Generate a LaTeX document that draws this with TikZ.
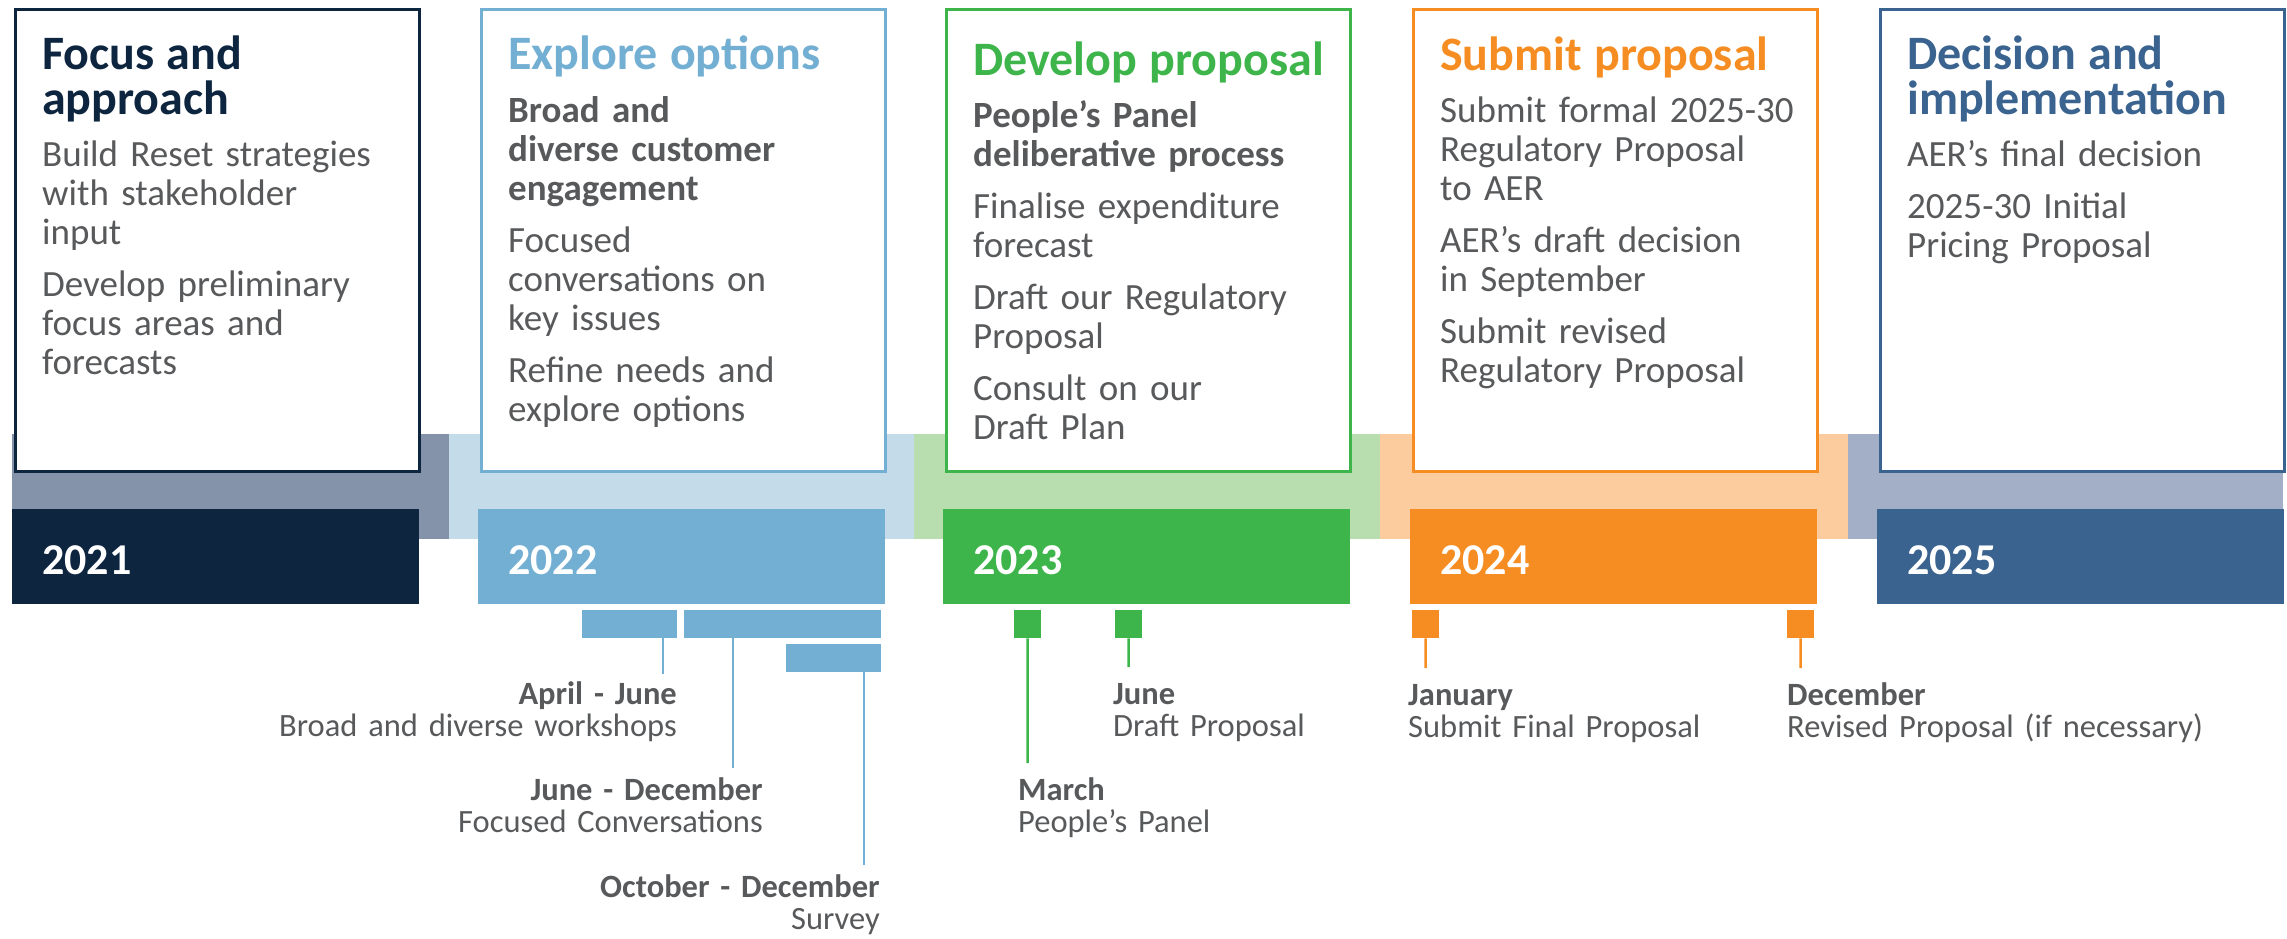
\documentclass[tikz,border=0pt]{standalone}
\usepackage{fontspec}
\setmainfont{Carlito}
\usepackage{xcolor}
\usetikzlibrary{positioning,calc}

% stage colours: strong, band
\definecolor{navy}{HTML}{0E2540}
\definecolor{navyband}{HTML}{8593AA}
\definecolor{sky}{HTML}{72AFD3}
\definecolor{skyband}{HTML}{C4DBE9}
\definecolor{leaf}{HTML}{3DB54A}
\definecolor{leafband}{HTML}{B8DEB0}
\definecolor{amber}{HTML}{F68D22}
\definecolor{amberband}{HTML}{FDCC9E}
\definecolor{steel}{HTML}{3A648F}
\definecolor{steelband}{HTML}{A3AEC7}
\definecolor{textgray}{HTML}{58595B}

\newcommand{\headfont}{\fontsize{48}{45}\selectfont\bfseries}
\newcommand{\gap}{\par\vspace{13pt}}

\begin{document}
\begin{tikzpicture}[x=1pt,y=-1pt]

	\tikzset{
	stage box/.style={draw, line width=3pt, fill=white, anchor=north west,
		minimum width=404pt, minimum height=461pt, inner sep=0pt},
	year bar/.style={anchor=north west, minimum width=407pt, minimum height=95pt, inner sep=0pt},
	year label/.style={anchor=base west, inner sep=0pt, text=white,
		font=\fontsize{44}{44}\selectfont\bfseries},
	stage text/.style={anchor=base west, inner sep=0pt, text width=390pt, align=left,
		text=textgray, font=\fontsize{37}{39}\selectfont},
	tick bar/.style={anchor=north west, inner sep=0pt, minimum height=28pt},
	tick line/.style={line width=2.5pt},
	date text/.style={inner sep=0pt, text width=460pt, text=textgray,
		font=\fontsize{32.5}{32}\selectfont}
}

\useasboundingbox (0,0) rectangle (2287,939);

% coloured band behind the years
\fill[navyband]  (12,434)    rectangle (448.5,539);
\fill[skyband]   (448.5,434) rectangle (913.5,539);
\fill[leafband]  (913.5,434) rectangle (1380,539);
\fill[amberband] (1380,434)  rectangle (1848,539);
\fill[steelband] (1848,434)  rectangle (2283,539);

% stage boxes
\node[stage box, draw=navy]  (box1) at (13.5,8.5) {};
\node[stage box, draw=sky]   (box2) at (479.5,8.5) {};
\node[stage box, draw=leaf]  (box3) at (944.5,8.5) {};
\node[stage box, draw=amber] (box4) at (1411.5,8.5) {};
\node[stage box, draw=steel] (box5) at (1878.5,8.5) {};

% year bars
\node[year bar, fill=navy]  (bar1) at (12,509) {};
\node[year bar, fill=sky]   (bar2) at (478,509) {};
\node[year bar, fill=leaf]  (bar3) at (943,509) {};
\node[year bar, fill=amber] (bar4) at (1410,509) {};
\node[year bar, fill=steel] (bar5) at (1877,509) {};

\node[year label] (y2021) at (42,574) {2021};
\node[year label] (y2022) at (508,574) {2022};
\node[year label] (y2023) at (973,574) {2023};
\node[year label] (y2024) at (1440,574) {2024};
\node[year label] (y2025) at (1907,574) {2025};

% box texts
\node[stage text] (txt1) at (42,70) {{\color{navy}\headfont Focus and\\approach\par}\vspace{13pt}
	Build Reset strategies\\with stakeholder\\input\gap
	Develop preliminary\\focus areas and\\forecasts};

\node[stage text] (txt2) at (508,70) {{\color{sky}\headfont Explore options\par}\vspace{14pt}
	\textbf{Broad and\\diverse customer\\engagement}\gap
	Focused\\conversations on\\key issues\gap
	Refine needs and\\explore options};

\node[stage text] (txt3) at (973,76) {{\color{leaf}\headfont Develop proposal\par}\vspace{13pt}
	\textbf{People’s Panel\\deliberative process}\gap
	Finalise expenditure\\forecast\gap
	Draft our Regulatory\\Proposal\gap
	Consult on our\\Draft Plan};

\node[stage text] (txt4) at (1440,71) {{\color{amber}\headfont Submit proposal\par}\vspace{13pt}
	Submit formal 2025-30\\Regulatory Proposal\\to AER\gap
	AER’s draft decision\\in September\gap
	Submit revised\\Regulatory Proposal};

\node[stage text] (txt5) at (1907,70) {{\color{steel}\headfont Decision and\\implementation\par}\vspace{13pt}
	AER’s final decision\gap
	2025-30 Initial\\Pricing Proposal};

% 2022 activities
\node[tick bar, fill=sky, minimum width=95pt]  (aprJun) at (582,610) {};
\node[tick bar, fill=sky, minimum width=197pt] (junDec) at (684,610) {};
\node[tick bar, fill=sky, minimum width=95pt]  (octDec) at (786,644) {};
\coordinate (aprJunEnd) at (663,674);
\coordinate (junDecEnd) at (733,768);
\coordinate (octDecEnd) at (864,865);
\draw[tick line, sky] (aprJun.south -| aprJunEnd) -- (aprJunEnd);
\draw[tick line, sky] (junDec.south -| junDecEnd) -- (junDecEnd);
\draw[tick line, sky] (octDec.south -| octDecEnd) -- (octDecEnd);
\node[date text, anchor=base east, align=right] (aprJunTxt) at (677,704) {\textbf{April - June}\\Broad and diverse workshops};
\node[date text, anchor=base east, align=right] (junDecTxt) at (763,800) {\textbf{June - December}\\Focused Conversations};
\node[date text, anchor=base east, align=right] (octDecTxt) at (880,897) {\textbf{October - December}\\Survey};

% 2023 milestones
\node[tick bar, fill=leaf, minimum width=27pt] (march) at (1014,610) {};
\node[tick bar, fill=leaf, minimum width=27pt] (june) at (1115,610) {};
\coordinate (marchEnd) at (1027.5,763);
\coordinate (juneEnd) at (1128.5,667);
\draw[tick line, leaf] (march.south) -- (marchEnd);
\draw[tick line, leaf] (june.south) -- (juneEnd);
\node[date text, anchor=base west, align=left] (marchTxt) at (1018,800) {\textbf{March}\\People’s Panel};
\node[date text, anchor=base west, align=left] (juneTxt) at (1113,704) {\textbf{June}\\Draft Proposal};

% 2024 milestones
\node[tick bar, fill=amber, minimum width=27pt] (january) at (1412,610) {};
\node[tick bar, fill=amber, minimum width=27pt] (december) at (1787,610) {};
\coordinate (januaryEnd) at (1425.5,668);
\coordinate (decemberEnd) at (1800.5,668);
\draw[tick line, amber] (january.south) -- (januaryEnd);
\draw[tick line, amber] (december.south) -- (decemberEnd);
\node[date text, anchor=base west, align=left] (januaryTxt) at (1408,705) {\textbf{January}\\Submit Final Proposal};
\node[date text, anchor=base west, align=left] (decemberTxt) at (1787,705) {\textbf{December}\\Revised Proposal (if necessary)};

\end{tikzpicture}
\end{document}
